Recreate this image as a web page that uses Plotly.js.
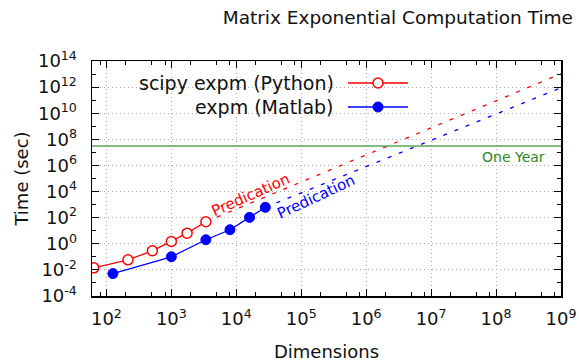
<!DOCTYPE html>
<html>
<head>
<meta charset="utf-8">
<script src="https://cdn.plot.ly/plotly-3.0.1.min.js"></script>
<style>html,body{margin:0;padding:0;background:#fff;}#chart{width:579px;height:362px;}</style>
</head>
<body>
<div id="chart"></div>
<script>
// ---- data ----
const pythonDims = [64, 215, 510, 1000, 1750, 3400];
const pythonTime = [0.0143, 0.059, 0.29, 1.5, 6.5, 49];
const matlabDims = [126, 1000, 3400, 8000, 16000, 28000];
const matlabTime = [0.0052, 0.1, 2.03, 11.9, 105, 617];
const pythonPredDims = [3400, 1e9];
const pythonPredTime = [49, 1.05e13];
const matlabPredDims = [28000, 1e9];
const matlabPredTime = [617, 9e11];
const oneYear = 3.15e7;
const seriesNames = ["scipy expm (Python)", "expm (Matlab)"];
const xTickVals = [1e2, 1e3, 1e4, 1e5, 1e6, 1e7, 1e8, 1e9];
const xTickText = ["10<sup>2</sup>", "10<sup>3</sup>", "10<sup>4</sup>", "10<sup>5</sup>", "10<sup>6</sup>", "10<sup>7</sup>", "10<sup>8</sup>", "10<sup>9</sup>"];
const yTickVals = [1e-4, 1e-2, 1e0, 1e2, 1e4, 1e6, 1e8, 1e10, 1e12, 1e14];
const yTickText = ["10<sup>-4</sup>", "10<sup>-2</sup>", "10<sup>0</sup>", "10<sup>2</sup>", "10<sup>4</sup>", "10<sup>6</sup>", "10<sup>8</sup>", "10<sup>10</sup>", "10<sup>12</sup>", "10<sup>14</sup>"];

const RED = "#ff0000", BLUE = "#0000ff", GREEN = "#5aa65a";
const FONT = "DejaVu Sans";

const xMinor = [];
for (let d = 1; d <= 8; d++) { [2, 5, 8].forEach(m => xMinor.push(m * Math.pow(10, d))); }
const yMinor = [];
for (let d = -3; d <= 13; d += 2) yMinor.push(Math.pow(10, d));

const traces = [
  { x: pythonPredDims, y: pythonPredTime, mode: "lines", line: { color: RED, width: 1.3, dash: "4px,8px" }, hoverinfo: "skip" },
  { x: matlabPredDims, y: matlabPredTime, mode: "lines", line: { color: BLUE, width: 1.3, dash: "4px,8px" }, hoverinfo: "skip" },
  { x: pythonDims, y: pythonTime, name: seriesNames[0], mode: "lines+markers",
    line: { color: RED, width: 1.3 },
    marker: { symbol: "circle", size: 10, color: "#ffffff", line: { color: RED, width: 1.5 } } },
  { x: matlabDims, y: matlabTime, name: seriesNames[1], mode: "lines+markers",
    line: { color: BLUE, width: 1.3 },
    marker: { symbol: "circle", size: 10, color: BLUE, line: { color: BLUE, width: 1 } } }
];

// plot frame in pixels: left 92, right 561, top 61, bottom 296
const px = v => (v - 92) / 469;
const py = v => (296 - v) / 235;

const shapes = [
  { type: "line", xref: "paper", x0: 0, x1: 1, yref: "y", y0: oneYear, y1: oneYear, line: { color: GREEN, width: 1.5 }, layer: "above" },
  // legend samples
  { type: "line", xref: "paper", yref: "paper", x0: px(348), x1: px(408), y0: py(83), y1: py(83), line: { color: RED, width: 1.3 } },
  { type: "circle", xref: "paper", yref: "paper", xsizemode: "pixel", ysizemode: "pixel", xanchor: px(378), yanchor: py(83), x0: -5, x1: 5, y0: -5, y1: 5, fillcolor: "#ffffff", line: { color: RED, width: 1.5 } },
  { type: "line", xref: "paper", yref: "paper", x0: px(348), x1: px(408), y0: py(107), y1: py(107), line: { color: BLUE, width: 1.3 } },
  { type: "circle", xref: "paper", yref: "paper", xsizemode: "pixel", ysizemode: "pixel", xanchor: px(378), yanchor: py(107), x0: -5, x1: 5, y0: -5, y1: 5, fillcolor: BLUE, line: { color: BLUE, width: 1 } }
];

const annotations = [
  { xref: "paper", yref: "paper", x: px(336), y: py(83), xanchor: "right", yanchor: "middle", text: seriesNames[0], showarrow: false, font: { family: FONT, size: 19, color: "#111" } },
  { xref: "paper", yref: "paper", x: px(336), y: py(107), xanchor: "right", yanchor: "middle", text: seriesNames[1], showarrow: false, font: { family: FONT, size: 19, color: "#111" } },
  { xref: "x", yref: "y", x: 4.22, y: 3.70, text: "Predication", textangle: -24, showarrow: false, font: { family: FONT, size: 15, color: RED } },
  { xref: "x", yref: "y", x: 5.22, y: 3.62, text: "Predication", textangle: -25, showarrow: false, font: { family: FONT, size: 15, color: BLUE } },
  { xref: "paper", yref: "y", x: px(547), y: Math.log10(oneYear), xanchor: "right", yanchor: "top", yshift: -1, text: "One Year", showarrow: false, font: { family: FONT, size: 14, color: "#2a8a2a" } }
];

const axisCommon = {
  showline: true, linecolor: "#000", linewidth: 1.5, mirror: "allticks",
  ticks: "inside", ticklen: 7, tickcolor: "#000", tickwidth: 1,
  showgrid: true, gridcolor: "#aaaaaa", gridwidth: 1, griddash: "1px,3px",
  zeroline: false, tickmode: "array",
  tickfont: { family: FONT, size: 18, color: "#111" }
};

const layout = {
  width: 579, height: 362,
  margin: { l: 92, r: 18, t: 61, b: 66 },
  paper_bgcolor: "#fff", plot_bgcolor: "#fff",
  showlegend: false,
  font: { family: FONT, color: "#111" },
  title: { text: "Matrix Exponential Computation Time", font: { family: FONT, size: 18.5, color: "#111" }, xref: "container", x: 573 / 579, xanchor: "right", yref: "container", y: 1 - 18 / 362, yanchor: "middle" },
  xaxis: Object.assign({}, axisCommon, {
    type: "log", range: [Math.log10(60), 9.0005],
    tickvals: xTickVals, ticktext: xTickText,
    ticklabelstandoff: 6,
    minor: { tickmode: "array", tickvals: xMinor, ticks: "inside", ticklen: 4, tickcolor: "#000", showgrid: false },
    title: { text: "Dimensions", font: { family: FONT, size: 18, color: "#111" }, standoff: 19 }
  }),
  yaxis: Object.assign({}, axisCommon, {
    type: "log", range: [-4, 14.0005],
    tickvals: yTickVals, ticktext: yTickText,
    ticklabelstandoff: 10,
    minor: { tickmode: "array", tickvals: yMinor, ticks: "inside", ticklen: 4, tickcolor: "#000", showgrid: false },
    title: { text: "Time (sec)", font: { family: FONT, size: 18, color: "#111" }, standoff: 4 }
  }),
  shapes: shapes,
  annotations: annotations
};

Plotly.newPlot("chart", traces, layout, { displayModeBar: false, staticPlot: true });
</script>
</body>
</html>
